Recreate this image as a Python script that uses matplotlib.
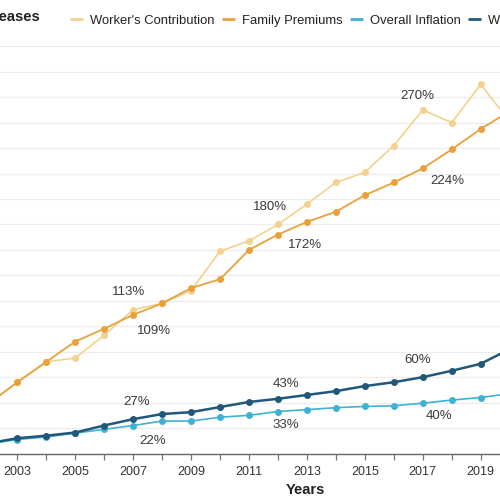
import matplotlib
matplotlib.use('Agg')
import matplotlib.pyplot as plt
from matplotlib.lines import Line2D

plt.rcParams['font.family'] = ['Liberation Sans', 'DejaVu Sans']

# 데이터 (누적 증가율, %)
years = list(range(2002, 2021))
workers_contribution = [39, 56, 72, 75, 93, 113, 118, 128, 159, 167, 180, 196, 213, 221, 242, 270, 260, 290, 261]
family_premiums = [39, 56, 72, 88, 98, 109, 118, 130, 137, 160, 172, 182, 190, 203, 213, 224, 239, 255, 269]
overall_inflation = [7.5, 11, 13, 16, 19, 22, 25.5, 25.5, 28.5, 30, 33, 34.5, 36, 37, 37.5, 39.5, 42, 44, 47]
workers_earnings = [8, 12, 14, 16.5, 22, 27, 31, 32.5, 36.5, 40.5, 43, 46, 49, 53, 56, 60, 65, 70.5, 82]

series_names = ["Worker's Contribution", "Family Premiums", "Overall Inflation", "Workers' Earnings"]
label_years = [2007, 2012, 2017]
label_texts = {
    "Worker's Contribution": ["113%", "180%", "270%"],
    "Family Premiums": ["109%", "172%", "224%"],
    "Overall Inflation": ["22%", "33%", "40%"],
    "Workers' Earnings": ["27%", "43%", "60%"],
}

# 스타일
colors = {
    "Worker's Contribution": '#f2d28e',
    "Family Premiums": '#e9a13b',
    "Overall Inflation": '#3fb1d3',
    "Workers' Earnings": '#21587a',
}
widths = {
    "Worker's Contribution": 1.2,
    "Family Premiums": 1.3,
    "Overall Inflation": 1.2,
    "Workers' Earnings": 1.8,
}
# 라벨 오프셋 (포인트 단위), 위 = 양수
offsets = {
    "Worker's Contribution": [(-3.5, 12.5), (-6, 12.5), (-3.6, 9.8)],
    "Family Premiums": [(14.8, -11.8), (19.2, -7.4), (17.8, -8.9)],
    "Overall Inflation": [(13.7, -10.8), (5.5, -10), (11.7, -9.4)],
    "Workers' Earnings": [(2.4, 12.7), (5.5, 10.3), (-3.4, 12.6)],
}

data = {
    "Worker's Contribution": workers_contribution,
    "Family Premiums": family_premiums,
    "Overall Inflation": overall_inflation,
    "Workers' Earnings": workers_earnings,
}

fig = plt.figure(figsize=(5, 5), dpi=100)
# 잘린 원본처럼 축이 그림 전체 폭을 차지하게 둔다
ax = fig.add_axes([0.0, 1 - 453.5 / 500, 1.0, 407.2 / 500])

for name in series_names:
    ax.plot(years, data[name], color=colors[name], linewidth=widths[name],
            marker='o', markersize=4, zorder=3)

for name in series_names:
    vals = data[name]
    for yr, txt, off in zip(label_years, label_texts[name], offsets[name]):
        ax.annotate(txt, (yr, vals[years.index(yr)]), xytext=off, textcoords='offset points',
                    ha='center', va='center', fontsize=9.5, color='#3a3a3a', zorder=4)

ax.set_yticks(range(0, 321, 20))
ax.yaxis.grid(True, color='#ececec', linewidth=0.9)
ax.set_axisbelow(True)
ax.tick_params(axis='y', left=False, labelleft=False)

for side in ['top', 'right', 'left']:
    ax.spines[side].set_visible(False)
ax.spines['bottom'].set_color('#666666')
ax.spines['bottom'].set_linewidth(1.0)

ax.set_xticks(range(2003, 2021, 2))
ax.set_xticks(range(2002, 2021, 2), minor=True)
ax.tick_params(axis='x', which='both', direction='out', length=4, width=0.9, color='#777777',
               labelsize=9, labelcolor='#333333', pad=5)

# 눈금 설정 뒤에 범위를 고정 (set_xticks가 범위를 넓히므로)
ax.set_xlim(2002.403, 2019.667)
ax.set_ylim(0, 320)

ax.set_xlabel('Years', fontsize=10.5, fontweight='bold', color='#222222')
ax.xaxis.set_label_coords(305 / 500, -0.072)

fig.text(40 / 500, 1 - 17 / 500, 'Cumulative Increases', ha='right', va='center',
         fontsize=10.5, fontweight='bold', color='#222222')

handles = [Line2D([], [], color=colors[n], linewidth=2, solid_capstyle='butt') for n in series_names]
fig.legend(handles, series_names, loc='center left', bbox_to_anchor=(70 / 500, 1 - 20.7 / 500),
           ncol=4, frameon=False, fontsize=9.4, handlelength=1.0, handletextpad=0.5,
           columnspacing=0.6, borderpad=0, borderaxespad=0, labelcolor='#222222')

fig.savefig('out.png', dpi=100)
